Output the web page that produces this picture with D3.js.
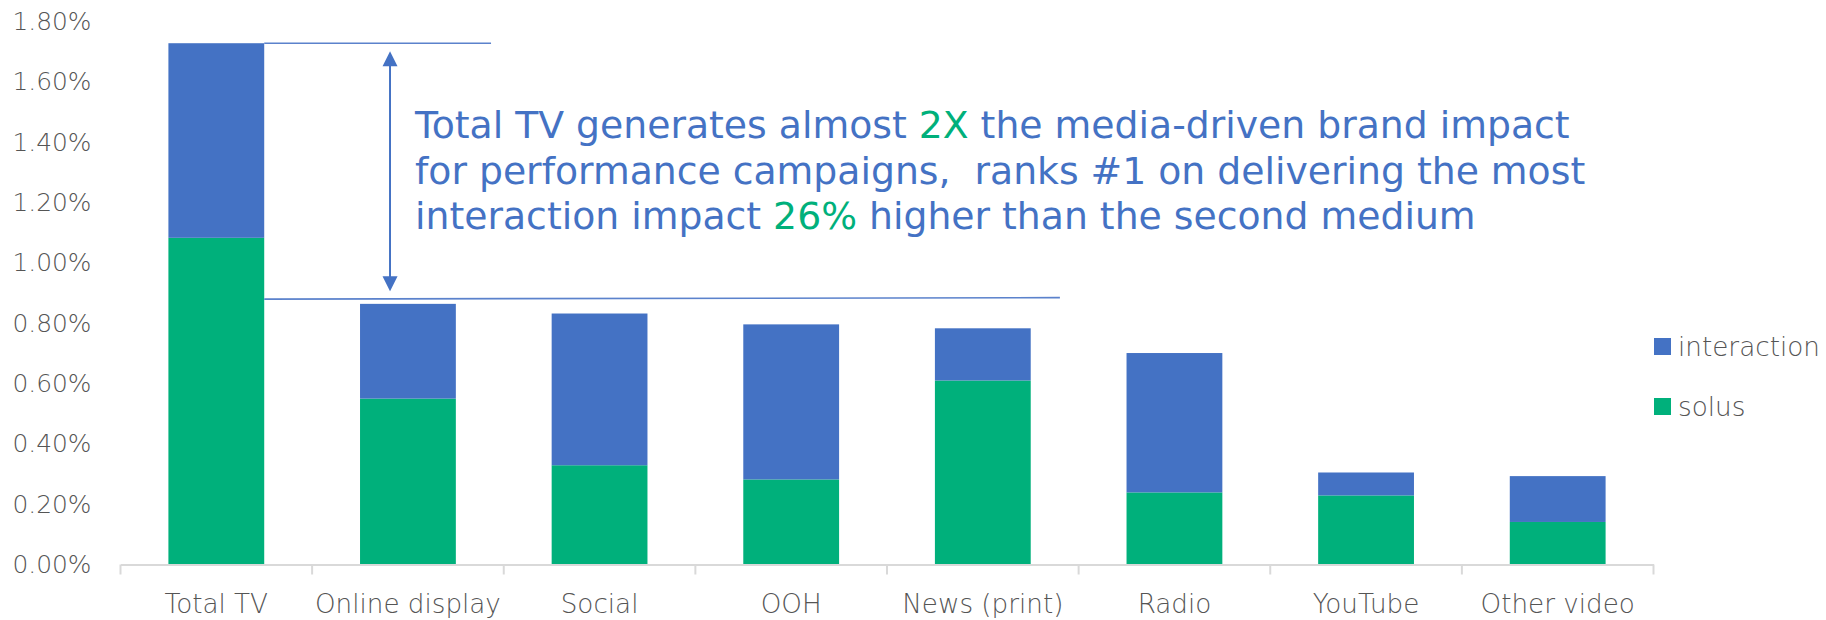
<!DOCTYPE html>
<html>
<head>
<meta charset="utf-8">
<script src="https://cdn.jsdelivr.net/npm/d3@7"></script>
<style>
  html, body { margin: 0; padding: 0; background: #ffffff; }
  svg { display: block; }
  text { font-family: "DejaVu Sans", "Noto Sans", sans-serif; }
  .light { font-weight: 300; }
</style>
</head>
<body>
<svg id="chart" width="1826" height="620"></svg>
<script>
// Media categories and their brand-impact contributions (as fractions)
const categories = ["Total TV", "Online display", "Social", "OOH", "News (print)", "Radio", "YouTube", "Other video"];
const solus       = [0.01083, 0.00550, 0.00329, 0.00282, 0.00610, 0.00239, 0.00229, 0.00141];
const interaction = [0.00645, 0.00314, 0.00503, 0.00514, 0.00173, 0.00462, 0.00076, 0.00152];
const yTicks = [0, 0.002, 0.004, 0.006, 0.008, 0.010, 0.012, 0.014, 0.016, 0.018];
const legendItems = ["interaction", "solus"];
// Level of the runner-up used for the bracket
const runnerUpLevel = 0.00883;

const BLUE = "#4472C4";
const GREEN = "#00B07B";
const GRAY = "#555555";
const colors = { interaction: BLUE, solus: GREEN };

const svg = d3.select("#chart");

const x = d3.scaleBand()
  .domain(categories)
  .range([120.5, 1653.5])
  .paddingInner(0.5)
  .paddingOuter(0.25);

const y = d3.scaleLinear()
  .domain([0, 0.018])
  .range([564.5, 21.5]);

const rows = categories.map((c, i) => ({ category: c, solus: solus[i], interaction: interaction[i] }));
const stacked = d3.stack().keys(["solus", "interaction"])(rows);

// Stacked bars
svg.append("g")
  .selectAll("g")
  .data(stacked)
  .join("g")
  .attr("fill", d => colors[d.key])
  .selectAll("rect")
  .data(d => d)
  .join("rect")
  .attr("x", d => x(d.data.category))
  .attr("width", x.bandwidth())
  .attr("y", d => y(d[1]))
  .attr("height", d => y(d[0]) - y(d[1]));

// Y axis: labels only
const yAxis = svg.append("g")
  .attr("transform", "translate(120.5,0)")
  .call(d3.axisLeft(y).tickValues(yTicks).tickFormat(d3.format(".2%")).tickSize(0).tickPadding(29));
yAxis.select(".domain").remove();
yAxis.selectAll("text")
  .attr("class", "light")
  .attr("fill", GRAY)
  .attr("font-family", "DejaVu Sans")
  .attr("font-size", 20);

// X axis: baseline with ticks on category boundaries
const xAxis = svg.append("g")
  .attr("transform", `translate(0,${y(0)})`)
  .call(d3.axisBottom(x).tickSize(0).tickSizeOuter(0));
xAxis.select(".domain").attr("stroke", "#d9d9d9").attr("stroke-width", 2);
xAxis.selectAll(".tick text")
  .attr("class", "light")
  .attr("fill", GRAY)
  .attr("font-family", "DejaVu Sans")
  .attr("font-size", 20)
  .attr("y", 48.5)
  .attr("dy", 0);

const step = x.step();
const x0 = x.range()[0];
svg.append("g")
  .attr("stroke", "#d9d9d9")
  .attr("stroke-width", 2)
  .selectAll("line")
  .data(d3.range(categories.length + 1))
  .join("line")
  .attr("x1", i => x0 + i * step)
  .attr("x2", i => x0 + i * step)
  .attr("y1", y(0))
  .attr("y2", y(0) + 10);

// Scale label fonts so the widths line up with the layout
function fitGroup(sel, sampleText, targetWidth) {
  let sample = null;
  sel.each(function () { if (this.textContent === sampleText) sample = this; });
  if (!sample) return;
  const w = sample.getComputedTextLength();
  const fs = parseFloat(d3.select(sample).attr("font-size"));
  sel.attr("font-size", fs * targetWidth / w);
}
fitGroup(yAxis.selectAll("text"), "0.00%", 79);
fitGroup(xAxis.selectAll(".tick text"), "Online display", 186);

// Legend
const legend = svg.append("g");
legendItems.forEach((name, i) => {
  const ly = 338 + i * 60;
  legend.append("rect")
    .attr("x", 1654).attr("y", ly)
    .attr("width", 17).attr("height", 17)
    .attr("fill", colors[name]);
  legend.append("text")
    .attr("class", "light")
    .attr("x", 1678).attr("y", ly + 17.5)
    .attr("fill", GRAY)
    .attr("font-size", 22)
    .text(name);
});
fitGroup(legend.selectAll("text"), "interaction", 142);

// Bracket lines marking the gap between the top medium and the runner-up
const tvTop = y(solus[0] + interaction[0]);
const lowY = y(runnerUpLevel);
const tvRight = x(categories[0]) + x.bandwidth();
const ann = svg.append("g").attr("stroke", "#5b82cc").attr("stroke-width", 1.6).attr("fill", "none");
ann.append("line")
  .attr("x1", tvRight).attr("x2", x(categories[1]) + 131)
  .attr("y1", tvTop).attr("y2", tvTop);
ann.append("line")
  .attr("x1", tvRight).attr("x2", x(categories[4]) + 125)
  .attr("y1", lowY + 1).attr("y2", lowY - 0.5);

// Double-headed arrow
const ax = x(categories[1]) + 30;
const tipTop = tvTop + 8;
const tipBot = lowY - 7;
const head = 15, half = 7.5;
svg.append("line")
  .attr("x1", ax).attr("x2", ax)
  .attr("y1", tipTop + head - 2).attr("y2", tipBot - head + 2)
  .attr("stroke", BLUE).attr("stroke-width", 2);
svg.append("path")
  .attr("d", `M${ax},${tipTop} L${ax + half},${tipTop + head} L${ax - half},${tipTop + head} Z`)
  .attr("fill", BLUE);
svg.append("path")
  .attr("d", `M${ax},${tipBot} L${ax + half},${tipBot - head} L${ax - half},${tipBot - head} Z`)
  .attr("fill", BLUE);

// Callout text
const lines = [
  [["Total TV generates almost ", BLUE], ["2X", GREEN], [" the media-driven brand impact", BLUE]],
  [["for performance campaigns,  ranks #1 on delivering the most", BLUE]],
  [["interaction impact ", BLUE], ["26%", GREEN], [" higher than the second medium", BLUE]]
];
const note = svg.append("text")
  .attr("x", ax + 25)
  .attr("y", 138)
  .attr("font-size", 34)
  .attr("fill", BLUE)
  .style("white-space", "pre");
lines.forEach((parts, li) => {
  parts.forEach(([t, c], pi) => {
    const ts = note.append("tspan").attr("fill", c).text(t);
    if (pi === 0) ts.attr("x", ax + 25).attr("y", 138 + li * 45.5);
  });
});
// Size the callout so its first line spans the intended width
const firstLine = svg.append("text").attr("font-size", 34).style("white-space", "pre")
  .text(lines[0].map(p => p[0]).join(""));
const fw = firstLine.node().getComputedTextLength();
firstLine.remove();
note.attr("font-size", 34 * 1155 / fw);
</script>
</body>
</html>
